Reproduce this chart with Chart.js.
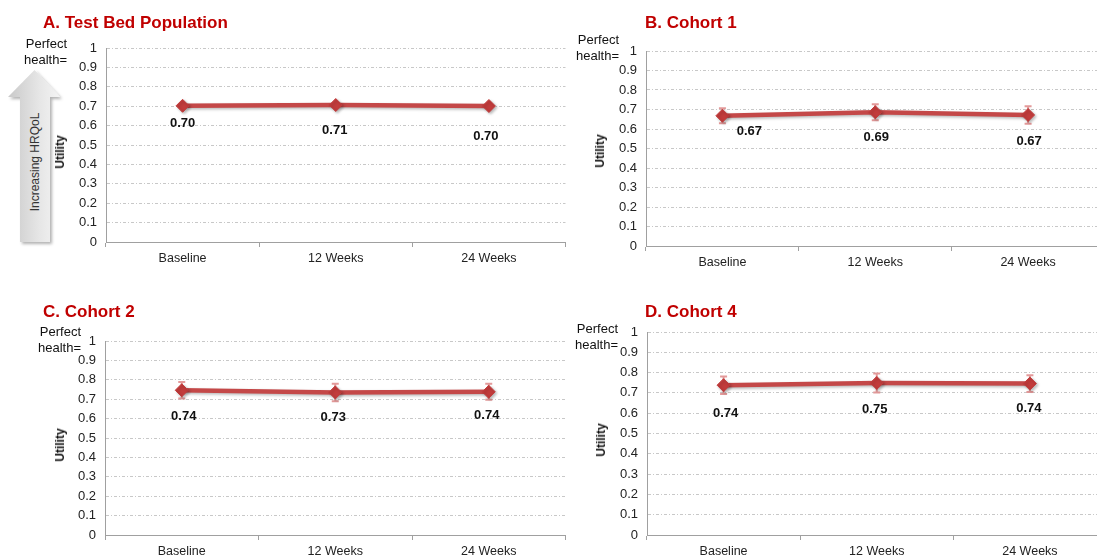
<!DOCTYPE html>
<html><head><meta charset="utf-8">
<script src="https://cdn.jsdelivr.net/npm/chart.js@4"></script>
<style>
html,body{margin:0;padding:0;background:#fff;width:1097px;height:555px;overflow:hidden;position:relative;font-family:"Liberation Sans",Arial,sans-serif}
.t{position:absolute;font-weight:bold;font-size:17px;line-height:20px;color:#c00000;white-space:nowrap}
.ph{position:absolute;font-size:13px;color:#111;text-align:right;line-height:16px;white-space:nowrap}
.ut{position:absolute;font-size:12px;font-weight:bold;color:#111;transform:translate(-50%,-50%) rotate(-90deg);white-space:nowrap}
canvas{position:absolute}
</style></head><body>
<svg style="position:absolute;left:0;top:0" width="80" height="250">
  <defs>
    <linearGradient id="ag" x1="0" y1="0" x2="1" y2="0">
      <stop offset="0" stop-color="#c9c9c9"/>
      <stop offset="0.6" stop-color="#e6e6e6"/>
      <stop offset="1" stop-color="#f4f4f4"/>
    </linearGradient>
    <filter id="sh" x="-30%" y="-10%" width="160%" height="130%">
      <feDropShadow dx="2" dy="2" stdDeviation="1.5" flood-color="#000" flood-opacity="0.3"/>
    </filter>
  </defs>
  <polygon points="34.5,70 60,97 50,97 50,242 20,242 20,97 8,97" fill="url(#ag)" filter="url(#sh)"/>
  <text x="35" y="162" transform="rotate(-90 35 162)" text-anchor="middle" dominant-baseline="central" font-family="Liberation Sans, Arial, sans-serif" font-size="12" fill="#333">Increasing HRQoL</text>
</svg>
<script>
const categories = ['Baseline', '12 Weeks', '24 Weeks'];
const titles = ['A. Test Bed Population', 'B. Cohort 1', 'C. Cohort 2', 'D. Cohort 4'];

const valuesA = [0.702, 0.706, 0.701];
const labelsA = ['0.70', '0.71', '0.70'];
const errorsA = [0, 0, 0];

const valuesB = [0.668, 0.686, 0.672];
const labelsB = ['0.67', '0.69', '0.67'];
const errorsB = [0.038, 0.041, 0.045];

const valuesC = [0.746, 0.735, 0.738];
const labelsC = ['0.74', '0.73', '0.74'];
const errorsC = [0.043, 0.045, 0.041];

const valuesD = [0.738, 0.749, 0.746];
const labelsD = ['0.74', '0.75', '0.74'];
const errorsD = [0.043, 0.047, 0.041];

const F = "'Liberation Sans', Arial, sans-serif";
const LINE = '#c44848';
const MARK = '#c23c3c';
const ERR = '#e39a9a';

const panels = [
  {title: titles[0], values: valuesA, labels: labelsA, errors: errorsA, L: 106, T: 48, R: 569, B: 242,
   offsets: [[0, 18], [-1, 25], [-3, 30]], tx: 43, ty: 13, phRight: 67, phTop: 35.5, ux: 60, uy: 152},
  {title: titles[1], values: valuesB, labels: labelsB, errors: errorsB, L: 646, T: 51, R: 1108, B: 246,
   offsets: [[27, 16], [1, 25], [1, 26]], tx: 645, ty: 13, phRight: 619, phTop: 32, ux: 600, uy: 151},
  {title: titles[2], values: valuesC, labels: labelsC, errors: errorsC, L: 105, T: 341, R: 569, B: 535,
   offsets: [[2, 26], [-2, 25], [-2, 24]], tx: 43, ty: 302, phRight: 81, phTop: 324, ux: 60, uy: 445},
  {title: titles[3], values: valuesD, labels: labelsD, errors: errorsD, L: 647, T: 332, R: 1110, B: 535,
   offsets: [[2, 28], [-2, 26], [-1, 25]], tx: 645, ty: 302, phRight: 618, phTop: 320.5, ux: 601, uy: 440}
];

const errorBarPlugin = {
  id: 'errbars',
  beforeDatasetsDraw(chart) {
    const ctx = chart.ctx, ys = chart.scales.y;
    chart.data.datasets.forEach((ds, i) => {
      const meta = chart.getDatasetMeta(i);
      meta.data.forEach((pt, j) => {
        const e = ds.errors[j];
        if (!e) return;
        const v = ds.data[j];
        const y1 = ys.getPixelForValue(v + e), y2 = ys.getPixelForValue(v - e);
        ctx.save();
        ctx.strokeStyle = ERR;
        ctx.lineWidth = 2;
        ctx.beginPath();
        ctx.moveTo(pt.x, y1); ctx.lineTo(pt.x, y2);
        ctx.moveTo(pt.x - 3.5, y1); ctx.lineTo(pt.x + 3.5, y1);
        ctx.moveTo(pt.x - 3.5, y2); ctx.lineTo(pt.x + 3.5, y2);
        ctx.stroke();
        ctx.restore();
      });
    });
  }
};

const shadowPlugin = {
  id: 'shadow',
  beforeDatasetDraw(chart) {
    const ctx = chart.ctx;
    ctx.save();
    ctx.shadowColor = 'rgba(0,0,0,0.28)';
    ctx.shadowBlur = 3;
    ctx.shadowOffsetX = 1.5;
    ctx.shadowOffsetY = 1.5;
  },
  afterDatasetDraw(chart) {
    chart.ctx.restore();
  }
};

const labelPlugin = {
  id: 'vlabels',
  afterDatasetsDraw(chart) {
    const ctx = chart.ctx;
    chart.data.datasets.forEach((ds, i) => {
      const meta = chart.getDatasetMeta(i);
      meta.data.forEach((pt, j) => {
        const o = ds.labelOffsets[j];
        ctx.save();
        ctx.font = 'bold 13px ' + F;
        ctx.fillStyle = '#111';
        ctx.textAlign = 'center';
        ctx.textBaseline = 'middle';
        ctx.fillText(ds.valueLabels[j], pt.x + o[0], pt.y + o[1]);
        ctx.restore();
      });
    });
  }
};

function addDiv(cls, text, style) {
  const d = document.createElement('div');
  d.className = cls;
  d.innerHTML = text;
  Object.assign(d.style, style);
  document.body.appendChild(d);
}

function makePanel(p) {
  const padTop = 20, yW = 60, xH = 31, padR = 4;
  const w = p.R - p.L + yW + padR, h = p.B - p.T + padTop + xH;
  const c = document.createElement('canvas');
  c.width = w; c.height = h;
  c.style.left = (p.L - yW) + 'px';
  c.style.top = (p.T - padTop) + 'px';
  c.style.width = w + 'px';
  c.style.height = h + 'px';
  document.body.appendChild(c);

  addDiv('t', p.title, {left: p.tx + 'px', top: p.ty + 'px'});
  addDiv('ph', 'Perfect<br>health=', {left: (p.phRight - 80) + 'px', width: '80px', top: p.phTop + 'px'});
  addDiv('ut', 'Utility', {left: p.ux + 'px', top: p.uy + 'px'});

  new Chart(c, {
    type: 'line',
    data: {
      labels: categories,
      datasets: [{
        data: p.values,
        errors: p.errors,
        valueLabels: p.labels,
        labelOffsets: p.offsets,
        borderColor: LINE,
        backgroundColor: MARK,
        borderWidth: 4.5,
        pointStyle: 'rectRot',
        pointRadius: 6.5,
        pointBorderColor: MARK,
        pointBorderWidth: 1,
        pointBackgroundColor: MARK,
        tension: 0,
        fill: false
      }]
    },
    options: {
      responsive: false,
      animation: false,
      devicePixelRatio: 1,
      layout: {padding: {top: padTop, right: padR, left: 0, bottom: 0}},
      plugins: {legend: {display: false}, tooltip: {enabled: false}},
      scales: {
        x: {
          type: 'category',
          offset: true,
          grid: {offset: true, drawOnChartArea: false, drawTicks: true, tickLength: 5, color: '#a0a0a0'},
          border: {color: '#a0a0a0', width: 1},
          ticks: {font: {family: F, size: 12.5}, color: '#222', padding: 4, maxRotation: 0, autoSkip: false},
          afterFit(s) { s.height = xH; }
        },
        y: {
          min: 0, max: 1,
          ticks: {stepSize: 0.1, font: {family: F, size: 13}, color: '#222', padding: 9,
                  callback: v => String(+(+v).toFixed(1))},
          grid: {drawTicks: false, color: '#c8c8c8', lineWidth: 1},
          border: {color: '#a0a0a0', width: 1, dash: [3, 2, 1, 2]},
          afterFit(s) { s.width = yW; }
        }
      }
    },
    plugins: [errorBarPlugin, shadowPlugin, labelPlugin]
  });
}

panels.forEach(makePanel);
</script>
</body></html>
